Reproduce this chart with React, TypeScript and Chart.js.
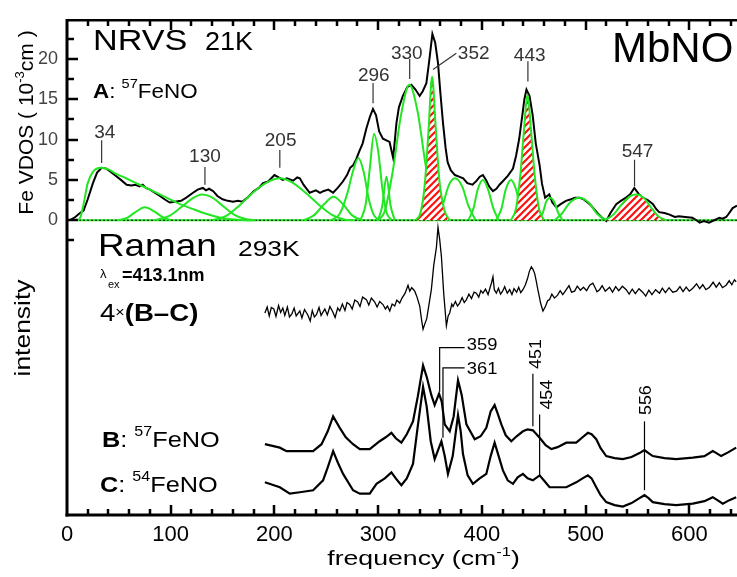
import React, { useEffect, useRef } from 'react';
import { Chart, registerables } from 'chart.js';
Chart.register(...registerables);

// ---------- data ----------
const xTickValues = [0, 100, 200, 300, 400, 500, 600];
const vdosTickValues = [0, 5, 10, 15, 20];
const xMinorStep = 20;
const vdosMinorStep = 2.5;
const xMax = 646;
const vdosMin = -36.55;
const vdosMax = 24.85;

// NRVS Fe VDOS spectrum (frequency, 10^-3 cm)
const nrvs: number[][] = [
  [3, 0], [8, 0.4], [12.5, 0.9], [16, 1.2], [20, 2.6], [25, 4.6], [29, 5.9], [33.4, 6.5], [38, 6.4], [42, 6.0],
  [46, 5.6], [52, 5.0], [57.5, 4.4], [62, 4.3], [66, 4.4], [70, 4.2], [73, 4.4], [76, 4.0], [80, 3.8], [85, 3.4],
  [89.6, 3.0], [94, 2.6], [99, 2.2], [104, 2.3], [110, 2.4], [115, 2.8], [121.5, 3.4], [126, 3.8], [131, 4.0], [134, 3.7],
  [137, 3.9], [141, 3.6], [145, 3.0], [150, 2.6], [155, 2.4], [160, 2.3], [165, 2.4], [169, 2.3], [174, 2.8], [180, 3.6],
  [185, 4.0], [189, 4.6], [194, 4.8], [200, 5.6], [204, 5.3], [208, 5.0], [212, 5.2], [218, 4.9], [222, 5.3], [224.5, 5.2],
  [228, 4.4], [234, 3.4], [240, 3.7], [244, 3.4], [247, 3.6], [252, 3.8], [256.6, 3.4], [261, 4.0], [266, 4.8], [270, 5.6],
  [273, 6.5], [275.8, 6.8], [279, 7.6], [282, 8.6], [285, 9.5], [288.7, 11.4], [292, 12.8], [295, 13.8], [298, 13.0], [301, 11.0],
  [304.6, 10.1], [308, 9.9], [311, 9.7], [314.5, 7.7], [317.6, 12.0], [320, 14.0], [323.8, 15.4], [328, 16.5], [332, 16.8], [336, 16.2],
  [340, 15.4], [343, 16.0], [346.5, 17.0], [349, 19.5], [352.3, 23.1], [355, 22.0], [357.7, 19.5], [360, 15.8], [362.5, 12.1], [365, 9.0],
  [367, 7.2], [370, 6.2], [374, 5.6], [378, 5.4], [382, 5.2], [386, 4.6], [391, 4.4], [395, 4.9], [398, 5.4], [401, 5.6],
  [404, 5.0], [407, 4.2], [410.7, 3.6], [414, 3.9], [417, 4.4], [420, 4.8], [425, 5.5], [430, 6.4], [433, 8.0], [436, 10.1],
  [439, 13.0], [441, 15.0], [443, 16.2], [446, 15.4], [449, 13.0], [452, 9.5], [455.7, 6.8], [458, 4.5], [461, 2.8], [463, 3.0],
  [465, 3.2], [468, 2.2], [471.8, 1.6], [476, 2.0], [481, 2.4], [486, 2.6], [490, 2.8], [494, 2.8], [498, 2.6], [502, 2.2],
  [504, 2.0], [508, 1.4], [512, 0.8], [516, 0.3], [520, -0.1], [524, 0.9], [529.6, 2.0], [534, 2.4], [539, 2.8], [543, 3.2],
  [547, 4.0], [551, 3.3], [555, 2.8], [560, 2.5], [565, 2.0], [568, 1.4], [571, 1.0], [576, 0.9], [581, 0.7], [586, 0.4],
  [590, 0.5], [596, 0.4], [603, 0.3], [607, 0.0], [610, -0.3], [614, -0.1], [619, -0.3], [624, 0.0], [629, 0.3], [632, 0.2],
  [635.6, 0.4], [638, 0.8], [641.8, 1.5], [646, 1.8],
];

// fitted components (green); hatched ones are the NO-sensitive modes
const fit34 = [[11, 0], [13, 0.4], [16, 2.0], [20, 4.6], [25, 6.0], [33, 6.5], [40, 6.3], [46, 5.85], [57, 5.2], [70, 4.4], [83, 3.6], [96, 2.8], [109, 2.0], [121, 1.4], [134, 0.8], [147, 0.35], [165, 0.05], [180, 0]];
const fit77 = [[50, 0], [58, 0.3], [66, 1.0], [75, 1.6], [84, 1.1], [92, 0.4], [100, 0]];
const fit130 = [[85, 0], [98, 0.5], [110, 1.6], [121, 2.7], [130, 3.2], [139, 2.9], [150, 1.8], [161, 0.7], [172, 0.15], [182, 0]];
const fit205 = [[140, 0], [153, 0.5], [166, 1.8], [180, 3.5], [193, 4.7], [205, 5.2], [217, 4.7], [230, 3.4], [243, 1.9], [255, 0.7], [267, 0.1], [276, 0]];
const fit256 = [[228, 0], [238, 0.6], [248, 2.0], [257, 2.9], [266, 2.0], [275, 0.6], [285, 0]];
const fit280 = [[255, 0], [263, 0.8], [270, 3.2], [276, 6.2], [281, 7.7], [286, 6.0], [291, 2.6], [296, 0.6], [302, 0]];
const fit296 = [[283, 0], [288, 2.0], [292, 6.5], [296, 10.7], [300, 8.6], [304, 4.0], [308, 1.0], [313, 0]];
const fit310 = [[300, 0], [304, 1.8], [308, 5.4], [312, 1.8], [316, 0]];
const fit330 = [[298, 0], [306, 1.0], [314, 6.0], [322, 13.0], [330, 16.8], [338, 13.5], [345, 7.5], [352, 2.5], [360, 0.4], [367, 0]];
const fit352 = [[336, 0], [341, 1.0], [345, 4.5], [348.5, 11.0], [352, 17.8], [355.5, 11.5], [359, 5.0], [364, 1.2], [369, 0]];
const fit374 = [[355, 0], [362, 1.8], [368, 4.3], [374, 5.2], [381, 4.2], [387, 1.8], [394, 0]];
const fit401 = [[387, 0], [392, 1.5], [396, 3.8], [401, 5.0], [406, 3.8], [411, 1.5], [416, 0]];
const fit428 = [[414, 0], [419, 1.5], [423, 3.8], [428, 5.0], [433, 3.8], [437, 1.5], [442, 0]];
const fit443 = [[428, 0], [433, 1.5], [437, 5.5], [440.5, 11.0], [444, 15.6], [447.5, 11.0], [451, 5.5], [455, 1.5], [460, 0]];
const fit466 = [[455, 0], [459, 1.0], [462, 2.3], [466, 2.8], [470, 2.2], [474, 0.8], [478, 0]];
const fit494 = [[470, 0], [477, 0.8], [485, 2.2], [494, 2.8], [503, 2.2], [511, 0.8], [520, 0]];
const fit547 = [[518, 0], [526, 0.6], [535, 2.0], [543, 3.0], [549, 3.2], [556, 2.8], [563, 1.6], [570, 0.5], [578, 0]];
const plainFits = [fit34, fit77, fit130, fit205, fit256, fit280, fit296, fit310, fit330, fit374, fit401, fit428, fit466, fit494];
const hatchedFits = [fit352, fit443, fit547];
const fitBaseline = [[11, 0], [646, 0]];
const zeroLine = [[0, 0], [646, 0]];

// Raman traces (arbitrary intensity units)
const ramanDiff = [
  [190.8, 40.8], [193, 42.0], [195, 40.2], [197, 41.9], [199.4, 41.6], [201.5, 40.1], [204, 42.3], [206, 40.9], [208.1, 41.8], [210, 40.3],
  [212.5, 42.0], [214.5, 40.0], [216.8, 40.6], [219, 41.8], [221, 40.2], [224.5, 41.2], [226.5, 39.8], [229, 41.5], [232.2, 40.4], [234.5, 39.2],
  [236.5, 41.3], [238.5, 40.0], [240.6, 40.5], [243, 41.9], [245, 40.3], [248.6, 41.6], [251, 40.4], [253.5, 42.1], [256.3, 41.0], [258.5, 39.9],
  [261, 41.8], [263, 41.2], [265.5, 42.6], [268, 41.3], [270, 42.9], [272.6, 42.5], [275, 41.6], [277.5, 43.4], [280.3, 43.0], [282.5, 42.1],
  [285, 44.0], [288.7, 43.5], [291, 42.4], [293.5, 43.8], [296.7, 43.0], [299, 42.0], [301.5, 43.1], [304.7, 42.5], [307, 41.6], [309, 42.2],
  [311.2, 41.2], [313.5, 42.6], [316, 42.2], [318, 43.4], [320.8, 42.8], [323, 43.8], [326, 44.8], [328.8, 46.4], [330.5, 45.2], [332.4, 45.9],
  [335.3, 45.2], [337.5, 44.0], [340.1, 42.2], [341.8, 39.5], [343.3, 37.5], [345, 38.6], [346.8, 39.6], [349, 42.5], [351.3, 45.5], [353.6, 50.4],
  [356.2, 54.1], [357.7, 58.1], [359.3, 55.7], [361, 52.2], [363.2, 44.8], [365.8, 38.2], [367.5, 40.2], [369, 40.8], [371, 42.6], [372.2, 42.1],
  [374.5, 43.1], [376.5, 42.2], [378.6, 42.8], [381, 43.9], [383, 42.9], [385.1, 43.5], [387.5, 44.6], [390, 43.7], [392.5, 45.0], [394.7, 44.8],
  [397, 44.0], [399, 45.3], [401, 44.8], [403.5, 45.6], [406, 44.5], [408, 46.0], [409.2, 46.8], [410.7, 48.1], [412, 45.5], [414, 44.8],
  [416, 45.8], [418, 44.6], [420, 45.2], [422, 46.1], [424.5, 44.8], [426.8, 45.5], [429, 44.5], [431, 45.7], [433.5, 45.0], [435.5, 46.0],
  [437.5, 44.9], [439.6, 45.5], [442, 46.5], [444.1, 47.8], [445.8, 49.2], [447.7, 50.1], [449.3, 49.6], [450.9, 48.8], [452.5, 47.2], [454, 45.5],
  [455.5, 44.0], [456.6, 42.8], [458.9, 41.2], [461.5, 42.2], [463.5, 43.3], [465.3, 43.5], [467.5, 44.6], [470, 43.8], [473, 44.4], [475.5, 45.3],
  [478, 44.5], [481.4, 45.5], [484, 46.3], [486.5, 45.0], [489.4, 45.2], [492, 46.2], [495, 45.4], [498, 46.0], [501, 45.3], [504, 46.4],
  [507, 46.8], [509, 46.0], [511, 45.1], [513.5, 45.5], [516, 46.3], [519, 45.2], [523.1, 46.0], [526, 45.0], [529, 46.1], [532, 45.3],
  [535.5, 46.2], [539.2, 45.5], [542, 44.6], [545, 45.6], [548, 44.7], [551.5, 45.7], [555, 45.0], [558, 44.2], [561, 45.4], [564, 44.5],
  [567.5, 45.5], [571.3, 44.8], [574, 45.8], [577, 44.9], [580.5, 45.9], [584, 45.0], [587.7, 45.2], [591, 46.1], [594, 45.1], [597, 46.0],
  [600, 45.2], [603.4, 45.8], [607, 46.7], [610, 45.7], [613, 46.5], [616, 45.5], [619.5, 46.0], [623, 47.0], [626, 46.0], [629, 46.9],
  [632, 45.9], [635.5, 46.4], [638.5, 47.3], [641, 46.5], [643.5, 47.5], [645.2, 47.1],
];
const raman57 = [
  [190.8, 14.3], [205.2, 13.6], [211.7, 12.9], [224.5, 12.9], [237.3, 12.9], [245.4, 14.3], [251.4, 16.9], [256.6, 19.9], [263, 17.6], [268.8, 15.7],
  [275.8, 14.3], [282.3, 13.3], [291.9, 13.3], [301.5, 14.9], [307.3, 15.7], [312.8, 16.6], [317, 15.5], [322.4, 14.6], [327.6, 16.3], [333.6, 18.9],
  [338.2, 23.9], [343.3, 30.2], [346.8, 27.9], [351.3, 24.2], [354.5, 22.2], [358.7, 24.5], [361.3, 22.9], [364.2, 18.3], [369, 16.9], [372.8, 19.9],
  [377, 27.2], [380.5, 24.3], [385.1, 18.3], [393.1, 15.3], [398.8, 15.9], [404.3, 17.6], [408.5, 20.9], [412.3, 22.2], [415.2, 20.5], [418.8, 18.3],
  [423, 16.1], [428.4, 14.9], [433.5, 15.9], [439.6, 16.9], [444.1, 17.3], [449.2, 17.1], [455.7, 15.6], [461.5, 14.1], [467, 13.3], [473, 13.7],
  [481.4, 14.6], [491, 14.6], [497.1, 15.7], [502.2, 16.6], [505.8, 16.3], [510.3, 15.3], [514.5, 13.5], [519.9, 11.9], [528, 11.5], [535.9, 11.3],
  [544.3, 11.7], [552, 12.5], [556.8, 13.1], [560.7, 12.5], [564.8, 11.9], [576.1, 11.5], [587.4, 11.3], [603.4, 11.6], [614.6, 11.9], [622.6, 12.9],
  [626.2, 12.5], [630.7, 11.9], [637.8, 12.7], [645.2, 13.6],
];
const raman54 = [
  [190.8, 6.6], [205.2, 5.6], [214.8, 4.3], [224.5, 4.6], [237.3, 5.0], [246.9, 7.0], [251.4, 9.6], [256.6, 12.9], [261.1, 10.6], [266.2, 8.3],
  [275.8, 5.0], [282.3, 4.3], [291.9, 4.3], [298.4, 6.3], [306.4, 7.4], [312.8, 8.6], [317, 7.4], [322.4, 6.0], [327.6, 7.4], [333.6, 10.3],
  [338.2, 17.9], [343.3, 25.9], [346.8, 21.9], [350.7, 14.9], [354.5, 11.3], [357.4, 12.9], [361, 14.9], [364.2, 11.9], [367.3, 8.3], [371.9, 11.9],
  [377, 20.2], [379.6, 16.9], [381.8, 12.3], [386.3, 8.0], [391.4, 6.3], [397.9, 7.4], [404.3, 8.3], [408.5, 11.9], [412.3, 14.6], [416.2, 11.9],
  [420.3, 9.0], [424.9, 7.0], [430, 6.3], [434.5, 7.6], [439.6, 8.3], [444.1, 7.4], [449.2, 7.0], [455.7, 8.0], [460.5, 6.8], [465.3, 5.6],
  [473, 5.6], [481.4, 5.6], [491, 6.6], [497.1, 7.4], [502.2, 8.0], [505.8, 7.4], [510.3, 5.6], [514.5, 4.0], [519.9, 2.6], [528, 2.0],
  [535.9, 1.7], [544.3, 2.4], [552, 3.4], [556.8, 4.0], [560.7, 3.4], [564.8, 2.6], [576.1, 2.2], [587.4, 2.0], [603.4, 2.3], [614.6, 2.8],
  [622.6, 3.6], [627.1, 3.0], [632.3, 2.3], [638.7, 3.0], [645.2, 3.6],
];

// peak labels: text, text position (freq, value), leader line points
const vdosPeakLabels = [
  { t: '34', at: [36.5, 11.0], line: [[33.4, 9.9], [33.4, 7.1]] },
  { t: '130', at: [133, 8.1], line: [[133, 6.6], [133, 4.4]] },
  { t: '205', at: [206, 10.05], line: [[205.2, 8.7], [205.2, 6.5]] },
  { t: '296', at: [295.8, 18.1], line: [[295.1, 17.0], [295.1, 14.5]] },
  { t: '330', at: [327.6, 20.8], line: [[330.4, 20.0], [330.4, 17.5]] },
  { t: '352', at: [392.1, 20.8], line: [[375.4, 20.7], [352.9, 18.7]] },
  { t: '443', at: [446.1, 20.6], line: [[444.4, 19.7], [444.4, 17.2]] },
  { t: '547', at: [550.1, 8.7], line: [[547.2, 7.5], [547.2, 4.2]] },
];
const ramanPeakLabels = [
  { t: '359', at: [385.4, 34.6], rot: false, line: [[359.3, 24.9], [359.3, 33.8], [383.4, 33.8]] },
  { t: '361', at: [385.4, 29.7], rot: false, line: [[362.5, 15.6], [362.5, 29.7], [383.4, 29.7]] },
  { t: '451', at: [450.9, 32.5], rot: true, line: [[449.2, 17.9], [449.2, 28.5]] },
  { t: '454', at: [461.5, 24.3], rot: true, line: [[455.7, 8.0], [455.7, 20.3]] },
  { t: '556', at: [557.5, 23.2], rot: true, line: [[556.8, 5.0], [556.8, 18.9]] },
];

// ---------- helpers ----------
const SANS = "'Liberation Sans', Arial, sans-serif";
const NARROW = "'Liberation Sans Narrow', 'Liberation Sans', Arial, sans-serif";
const fnt = (size: number, bold = false) => `${bold ? 'bold ' : ''}${size}px ${SANS}`;

type Seg = { t: string; f: string; dy?: number };
function rich(ctx: CanvasRenderingContext2D, segs: Seg[], x: number, y: number, sx = 1, rot = false, center = false, color = '#000') {
  ctx.save();
  ctx.translate(x, y);
  if (rot) ctx.rotate(-Math.PI / 2);
  ctx.scale(sx, 1);
  ctx.fillStyle = color;
  ctx.textAlign = 'left';
  ctx.textBaseline = 'alphabetic';
  let w = 0;
  for (const s of segs) { ctx.font = s.f; w += ctx.measureText(s.t).width; }
  let cx = center ? -w / 2 : 0;
  for (const s of segs) {
    ctx.font = s.f;
    ctx.fillText(s.t, cx, s.dy ?? 0);
    cx += ctx.measureText(s.t).width;
  }
  ctx.restore();
}

function strokePath(ctx: CanvasRenderingContext2D, pts: number[][], w: number, color: string) {
  ctx.save();
  ctx.beginPath();
  ctx.lineWidth = w;
  ctx.strokeStyle = color;
  pts.forEach(([x, y], i) => (i === 0 ? ctx.moveTo(x, y) : ctx.lineTo(x, y)));
  ctx.stroke();
  ctx.restore();
}

const toXY = (a: number[][]) => a.map(([x, y]) => ({ x, y }));

function makeHatch(): CanvasPattern | string {
  const s = 7;
  const c = document.createElement('canvas');
  c.width = s; c.height = s;
  const p = c.getContext('2d');
  if (!p) return '#ff0000';
  p.fillStyle = '#ffffff';
  p.fillRect(0, 0, s, s);
  p.strokeStyle = '#ff1010';
  p.lineWidth = 2.2;
  p.beginPath();
  p.moveTo(-1, s + 1); p.lineTo(s + 1, -1);
  p.moveTo(-1, 1); p.lineTo(1, -1);
  p.moveTo(s - 1, s + 1); p.lineTo(s + 1, s - 1);
  p.stroke();
  return p.createPattern(c, 'repeat') ?? '#ff0000';
}

// frame + inward ticks, drawn before the datasets from the scales
const framePlugin = {
  id: 'frame',
  beforeDatasetsDraw(chart: any) {
    const ctx: CanvasRenderingContext2D = chart.ctx;
    const X = chart.scales.x, Y = chart.scales.y;
    const L = Math.round(X.getPixelForValue(0));
    const R = Math.round(X.getPixelForValue(xMax));
    const T = Math.round(Y.getPixelForValue(vdosMax));
    const B = Math.round(Y.getPixelForValue(vdosMin));
    ctx.save();
    ctx.fillStyle = '#000';
    ctx.fillRect(L - 1.5, T - 1, 3, B - T + 2.5);
    ctx.fillRect(L - 1.5, B - 1.5, R - L + 1.5, 3);
    ctx.fillRect(L, T - 1, R - L, 2.5);
    for (let v = xMinorStep; v < xMax; v += xMinorStep) {
      const px = Math.round(X.getPixelForValue(v));
      const len = v % 100 === 0 ? 10 : 6;
      ctx.fillRect(px - 1.25, B - len, 2.5, len);
      ctx.fillRect(px - 1.25, T, 2.5, len);
    }
    for (let v = -vdosMinorStep; v <= 22.5; v += vdosMinorStep) {
      const py = Math.round(Y.getPixelForValue(v));
      const major = Math.abs(v % 5) < 1e-6;
      ctx.fillRect(L, py - 1.25, major ? 11 : 7, 2.5);
    }
    ctx.restore();
  },
};

const labelPlugin = {
  id: 'labels',
  afterDraw(chart: any) {
    const ctx: CanvasRenderingContext2D = chart.ctx;
    const X = chart.scales.x, Y = chart.scales.y, Y2 = chart.scales.y2;
    for (const a of vdosPeakLabels) {
      strokePath(ctx, a.line.map(([fx, fv]) => [X.getPixelForValue(fx), Y.getPixelForValue(fv)]), 1.2, '#333');
      rich(ctx, [{ t: a.t, f: fnt(19) }], X.getPixelForValue(a.at[0]), Y.getPixelForValue(a.at[1]) + 6.8, 1, false, true, '#333');
    }
    for (const a of ramanPeakLabels) {
      strokePath(ctx, a.line.map(([fx, fv]) => [X.getPixelForValue(fx), Y2.getPixelForValue(fv)]), 1.2, '#000');
      const px = X.getPixelForValue(a.at[0]), py = Y2.getPixelForValue(a.at[1]);
      if (a.rot) rich(ctx, [{ t: a.t, f: fnt(17) }], px + 6, py, 1.05, true, true);
      else rich(ctx, [{ t: a.t, f: fnt(17) }], px, py + 6, 1.08, false, false);
    }
    rich(ctx, [{ t: 'NRVS', f: fnt(30) }], 93, 50, 1.14);
    rich(ctx, [{ t: '21K', f: fnt(25) }], 205, 50, 1.08);
    rich(ctx, [{ t: 'A', f: fnt(20, true) }, { t: ': ', f: fnt(20) }, { t: '57', f: fnt(13), dy: -10 }, { t: 'FeNO', f: fnt(20) }], 93, 98, 1.12);
    rich(ctx, [{ t: 'MbNO', f: fnt(42) }], 612, 62, 1.0);
    rich(ctx, [{ t: 'Raman', f: fnt(32) }], 98, 256, 1.15);
    rich(ctx, [{ t: '293K', f: fnt(22) }], 238, 256, 1.2);
    rich(ctx, [{ t: 'λ', f: fnt(13) }], 100, 278, 1);
    rich(ctx, [{ t: 'ex', f: fnt(11) }], 108, 288, 1);
    rich(ctx, [{ t: '=413.1nm', f: fnt(18, true) }], 122, 281, 1.0);
    rich(ctx, [{ t: '4', f: fnt(24) }, { t: '×', f: fnt(14), dy: -4 }, { t: '(B–C)', f: fnt(24, true) }], 100, 321, 1.15);
    rich(ctx, [{ t: 'B', f: fnt(22, true) }, { t: ': ', f: fnt(22) }, { t: '57', f: fnt(14), dy: -11 }, { t: 'FeNO', f: fnt(22) }], 102, 447, 1.15);
    rich(ctx, [{ t: 'C', f: fnt(22, true) }, { t: ': ', f: fnt(22) }, { t: '54', f: fnt(14), dy: -11 }, { t: 'FeNO', f: fnt(22) }], 100, 492, 1.15);
    rich(ctx, [{ t: 'Fe VDOS ( 10', f: fnt(21) }, { t: '-3', f: fnt(13), dy: -9 }, { t: 'cm )', f: fnt(21) }], 33, 122.5, 1.0, true, true);
    rich(ctx, [{ t: 'intensity', f: fnt(22) }], 30, 328, 1.2, true, true);
    rich(ctx, [{ t: 'frequency (cm', f: fnt(21) }, { t: '-1', f: fnt(13), dy: -9 }, { t: ')', f: fnt(21) }], 423.5, 565, 1.27, false, true);
  },
};

export default function App() {
  const ref = useRef<HTMLCanvasElement | null>(null);
  useEffect(() => {
    if (!ref.current) return;
    const hatch = makeHatch();
    const green = '#22e622';
    const datasets: any[] = [];
    for (const d of hatchedFits) {
      datasets.push({ data: toXY(d), borderColor: green, borderWidth: 2, pointRadius: 0, cubicInterpolationMode: 'monotone', fill: 'origin', backgroundColor: hatch, order: 0 });
    }
    for (const d of plainFits) {
      datasets.push({ data: toXY(d), borderColor: green, borderWidth: 2, pointRadius: 0, cubicInterpolationMode: 'monotone', fill: false, order: 0 });
    }
    datasets.push({ data: toXY(nrvs), borderColor: '#000', borderWidth: 2, pointRadius: 0, tension: 0, fill: false, order: 1 });
    datasets.push({ data: toXY(zeroLine), borderColor: '#000', borderWidth: 1, borderDash: [2, 2], pointRadius: 0, fill: false, order: 2 });
    datasets.push({ data: toXY(fitBaseline), borderColor: green, borderWidth: 2, pointRadius: 0, fill: false, order: 3 });
    datasets.push({ data: toXY(ramanDiff), yAxisID: 'y2', borderColor: '#000', borderWidth: 1.3, pointRadius: 0, tension: 0, fill: false, order: 1 });
    datasets.push({ data: toXY(raman57), yAxisID: 'y2', borderColor: '#000', borderWidth: 2.2, pointRadius: 0, tension: 0, fill: false, order: 1 });
    datasets.push({ data: toXY(raman54), yAxisID: 'y2', borderColor: '#000', borderWidth: 2.2, pointRadius: 0, tension: 0, fill: false, order: 1 });

    const chart = new Chart(ref.current, {
      type: 'line',
      data: { datasets },
      plugins: [framePlugin, labelPlugin],
      options: {
        animation: false,
        responsive: false,
        devicePixelRatio: 1,
        layout: { padding: { top: 12.7, left: 0, right: 0, bottom: 0 }, autoPadding: false },
        plugins: { legend: { display: false }, tooltip: { enabled: false } },
        scales: {
          x: {
            type: 'linear', min: 0, max: xMax, position: 'bottom',
            grid: { display: false, drawTicks: false }, border: { display: false },
            ticks: { font: { family: SANS, size: 22 }, color: '#000', padding: 7, maxRotation: 0, autoSkip: false },
            afterBuildTicks: (s: any) => { s.ticks = xTickValues.map((v) => ({ value: v })); },
            afterFit: (s: any) => { s.height = 62; },
          },
          y: {
            type: 'linear', min: vdosMin, max: vdosMax, position: 'left',
            grid: { display: false, drawTicks: false }, border: { display: false },
            ticks: { font: { family: NARROW, size: 18 }, color: '#444', padding: 9, autoSkip: false },
            afterBuildTicks: (s: any) => { s.ticks = vdosTickValues.map((v) => ({ value: v })); },
            afterFit: (s: any) => { s.width = 67; },
          },
          y2: { type: 'linear', min: 0, max: 100, display: false },
        },
      } as any,
    });
    return () => chart.destroy();
  }, []);
  return (
    <div style={{ position: 'absolute', left: 0, top: 0, width: 737, height: 577, background: '#fff' }}>
      <canvas ref={ref} width={737} height={577} style={{ width: 737, height: 577, display: 'block' }} />
    </div>
  );
}
